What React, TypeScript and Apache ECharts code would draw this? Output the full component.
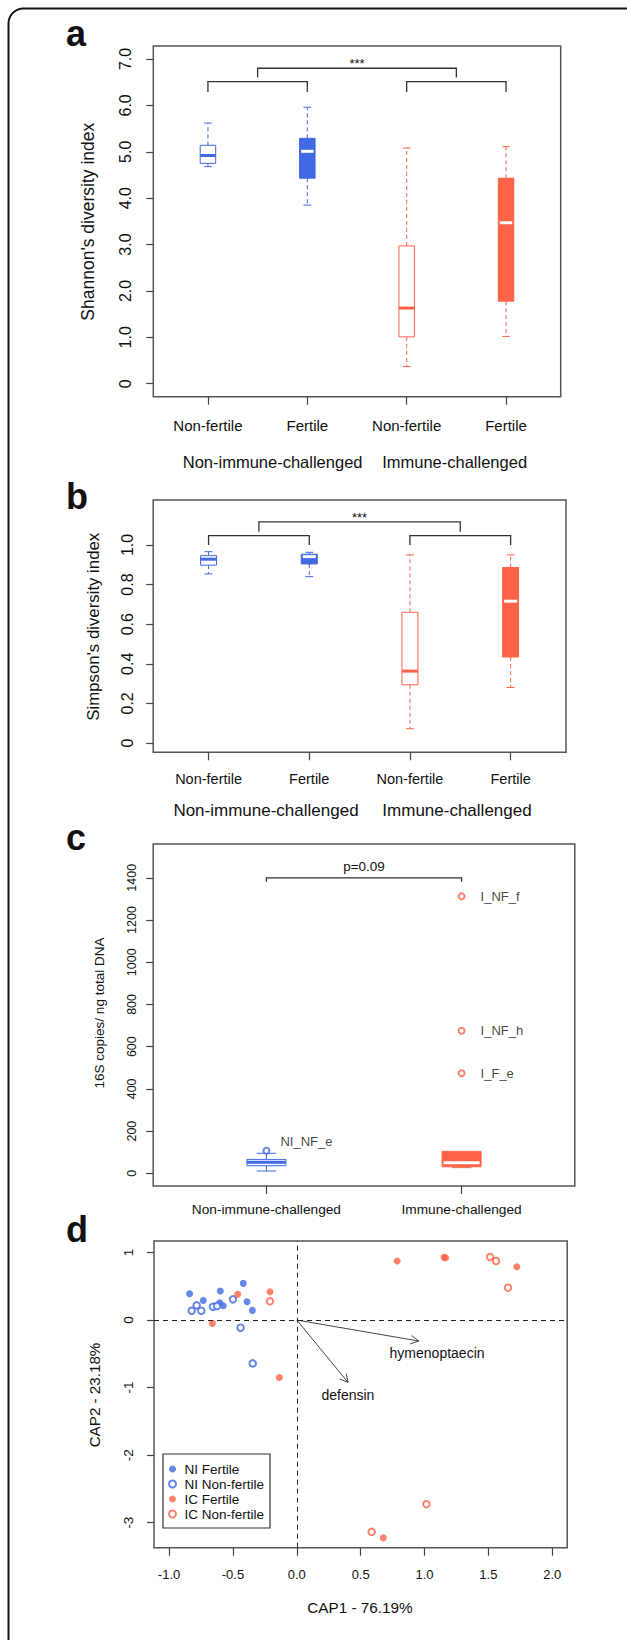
import React, { useEffect, useRef } from "react";
import * as echarts from "echarts";

const BLUE = "#4169E1";
const RED = "#FF6347";
const FONT = "'Liberation Sans', Arial, Helvetica, sans-serif";
const INK = "#111";

// ---------- panel a / b : boxplots ----------
const boxCategories = ["Non-fertile", "Fertile", "Non-fertile", "Fertile"];
const groupLabels = ["Non-immune-challenged", "Immune-challenged"];
const boxFilled = [false, true, false, true];
const boxColors = [BLUE, BLUE, RED, RED];

// each row: [min, q1, median, q3, max]
const shannonStats = [
  [4.68, 4.75, 4.92, 5.14, 5.62],
  [3.85, 4.43, 5.01, 5.29, 5.96],
  [0.37, 1.01, 1.63, 2.97, 5.08],
  [1.02, 1.78, 3.47, 4.43, 5.11],
];
const shannonTicks = [0, 1, 2, 3, 4, 5, 6, 7];
// [x1, x2, yTop, yDrop]
const shannonBrackets = [
  [1, 2, 6.51, 6.29],
  [3, 4, 6.51, 6.29],
  [1.5, 3.5, 6.8, 6.6],
];
const shannonBracketLabels = ["", "", "***"];

const simpsonStats = [
  [0.854, 0.898, 0.928, 0.946, 0.966],
  [0.84, 0.904, 0.941, 0.953, 0.963],
  [0.072, 0.294, 0.363, 0.66, 0.95],
  [0.28, 0.434, 0.716, 0.886, 0.95],
];
const simpsonTicks = [0, 0.2, 0.4, 0.6, 0.8, 1.0];
const simpsonBrackets = [
  [1, 2, 1.047, 1.0],
  [3, 4, 1.047, 1.0],
  [1.5, 3.5, 1.117, 1.067],
];
const simpsonBracketLabels = ["", "", "***"];

// ---------- panel c ----------
const copiesCategories = ["Non-immune-challenged", "Immune-challenged"];
const copiesStats = [
  [11, 36, 52, 66, 95],
  [27, 31, 50, 104, 104],
];
const copiesFilled = [false, true];
const copiesColors = [BLUE, RED];
const copiesTicks = [0, 200, 400, 600, 800, 1000, 1200, 1400];
const niOutliers = [[1, 107]];
const niOutlierLabels = ["NI_NF_e"];
const icOutliers = [
  [2, 1312],
  [2, 675],
  [2, 474],
];
const icOutlierLabels = ["I_NF_f", "I_NF_h", "I_F_e"];
const copiesBrackets = [[1, 2, 1400, 1381]];
const copiesBracketLabels = ["p=0.09"];

// ---------- panel d ----------
const niFertile = [
  [-0.839, 0.39], [-0.732, 0.29], [-0.599, 0.43], [-0.604, 0.257],
  [-0.576, 0.212], [-0.419, 0.543], [-0.39, 0.27], [-0.348, 0.143],
];
const niNonFertile = [
  [-0.823, 0.138], [-0.784, 0.217], [-0.748, 0.138], [-0.656, 0.197],
  [-0.625, 0.207], [-0.5, 0.306], [-0.44, -0.114], [-0.345, -0.642],
];
const icFertile = [
  [-0.661, -0.049], [-0.463, 0.38], [-0.21, 0.42], [-0.137, -0.85],
  [0.786, 0.874], [1.153, 0.928], [1.165, 0.923], [1.723, 0.79], [0.677, -3.225],
];
const icNonFertile = [
  [-0.21, 0.277], [1.513, 0.933], [1.56, 0.874], [1.654, 0.479],
  [0.586, -3.136], [1.015, -2.726],
];
// [x0, y0, x1, y1, labelX, labelY]
const capArrows = [
  [0, 0, 0.955, -0.311, 1.098, -0.489],
  [0, 0, 0.401, -0.923, 0.4, -1.11],
];
const capArrowNames = ["hymenoptaecin", "defensin"];
const capXTicks = [-1, -0.5, 0, 0.5, 1, 1.5, 2];
const capYTicks = [-3, -2, -1, 0, 1];

function boxSeries(
  idx: number,
  stats: number[][],
  filled: boolean[],
  colors: string[],
  boxW: number,
  dashed: boolean
) {
  return {
    type: "custom",
    xAxisIndex: idx,
    yAxisIndex: idx,
    data: stats.map((s, i) => [i + 1, ...s]),
    renderItem: (params: any, api: any) => {
      const i = params.dataIndex;
      const pos = api.value(0);
      const c = colors[i];
      const f = filled[i];
      const pMin = api.coord([pos, api.value(1)]);
      const pQ1 = api.coord([pos, api.value(2)]);
      const pMed = api.coord([pos, api.value(3)]);
      const pQ3 = api.coord([pos, api.value(4)]);
      const pMax = api.coord([pos, api.value(5)]);
      const cx = pMin[0];
      const hw = boxW / 2;
      const cap = boxW / 4;
      const wStyle: any = { stroke: c, lineWidth: 1 };
      if (dashed) wStyle.lineDash = [4, 3];
      const ch: any[] = [];
      if (pMax[1] < pQ3[1] - 0.5) {
        ch.push({ type: "line", shape: { x1: cx, y1: pQ3[1], x2: cx, y2: pMax[1] }, style: wStyle });
        ch.push({ type: "line", shape: { x1: cx - cap, y1: pMax[1], x2: cx + cap, y2: pMax[1] }, style: { stroke: c, lineWidth: 1 } });
      }
      if (pMin[1] > pQ1[1] + 0.5) {
        ch.push({ type: "line", shape: { x1: cx, y1: pQ1[1], x2: cx, y2: pMin[1] }, style: wStyle });
        ch.push({ type: "line", shape: { x1: cx - cap, y1: pMin[1], x2: cx + cap, y2: pMin[1] }, style: { stroke: c, lineWidth: 1 } });
      }
      ch.push({
        type: "rect",
        shape: { x: cx - hw, y: pQ3[1], width: boxW, height: pQ1[1] - pQ3[1] },
        style: { fill: f ? c : "#fff", stroke: c, lineWidth: 1 },
      });
      ch.push({
        type: "line",
        shape: { x1: cx - hw + (f ? 1.5 : 0), y1: pMed[1], x2: cx + hw - (f ? 1.5 : 0), y2: pMed[1] },
        style: { stroke: f ? "#fff" : c, lineWidth: 3 },
      });
      return { type: "group", children: ch };
    },
  };
}

function bracketSeries(idx: number, data: number[][], labels: string[], fontSize: number, lift: number) {
  return {
    type: "custom",
    xAxisIndex: idx,
    yAxisIndex: idx,
    data,
    renderItem: (params: any, api: any) => {
      const x1 = api.value(0);
      const x2 = api.value(1);
      const yt = api.value(2);
      const yd = api.value(3);
      const a = api.coord([x1, yd]);
      const b = api.coord([x1, yt]);
      const c = api.coord([x2, yt]);
      const d = api.coord([x2, yd]);
      const ch: any[] = [
        { type: "polyline", shape: { points: [a, b, c, d] }, style: { stroke: "#333", lineWidth: 1.3, fill: "none" } },
      ];
      const lab = labels[params.dataIndex];
      if (lab) {
        ch.push({
          type: "text",
          x: (b[0] + c[0]) / 2,
          y: b[1] - lift,
          style: { text: lab, fontSize, fontFamily: FONT, fill: INK, align: "center", verticalAlign: "bottom" },
        });
      }
      return { type: "group", children: ch };
    },
  };
}

function valueX(idx: number, min: number, max: number, ticks: number[], fmt: (v: number) => string, fontSize: number, margin: number) {
  return {
    type: "value",
    gridIndex: idx,
    min,
    max,
    axisLine: { show: false, onZero: false },
    splitLine: { show: false },
    axisTick: { show: true, customValues: ticks, length: 8, lineStyle: { color: "#444", width: 1.2 } },
    axisLabel: { show: true, customValues: ticks, formatter: fmt, fontSize, fontFamily: FONT, color: INK, margin },
  };
}

function valueY(idx: number, min: number, max: number, ticks: number[], fmt: (v: number) => string, fontSize: number, margin: number) {
  return {
    type: "value",
    gridIndex: idx,
    min,
    max,
    axisLine: { show: false, onZero: false },
    splitLine: { show: false },
    axisTick: { show: true, customValues: ticks, length: 7, lineStyle: { color: "#444", width: 1.2 } },
    axisLabel: { show: true, customValues: ticks, formatter: fmt, fontSize, fontFamily: FONT, color: INK, margin, rotate: 90 },
  };
}

function txt(text: string, x: number, y: number, fontSize: number, extra: any = {}) {
  return {
    type: "text",
    x,
    y,
    style: { text, fontSize, fontFamily: FONT, fill: INK, align: "center", verticalAlign: "middle", ...extra },
  };
}

function vtxt(text: string, x: number, y: number, fontSize: number) {
  return {
    type: "text",
    x,
    y,
    rotation: Math.PI / 2,
    style: { text, fontSize, fontFamily: FONT, fill: INK, align: "center", verticalAlign: "middle" },
  };
}

const gridBase = { show: true, borderColor: "#555", borderWidth: 1.5, backgroundColor: "transparent", outerBoundsMode: "none", containLabel: false };

export default function App() {
  const ref = useRef<HTMLDivElement>(null);
  useEffect(() => {
    document.body.style.margin = "0";
    if (!ref.current) return;
    const chart = echarts.init(ref.current, null, { renderer: "svg" });
    const dec1 = (v: number) => (v === 0 ? "0" : v.toFixed(1));
    const option: any = {
      animation: false,
      backgroundColor: "#fff",
      textStyle: { fontFamily: FONT },
      grid: [
        { ...gridBase, left: 153.3, top: 46, width: 407.4, height: 350.7 },
        { ...gridBase, left: 153.2, top: 500, width: 412.8, height: 252.3 },
        { ...gridBase, left: 153.2, top: 844, width: 421.6, height: 342 },
        { ...gridBase, left: 154, top: 1241, width: 413.2, height: 306.7 },
      ],
      xAxis: [
        valueX(0, 0.45, 4.55, [1, 2, 3, 4], (v) => boxCategories[Math.round(v) - 1], 15, 21),
        valueX(1, 0.45, 4.55, [1, 2, 3, 4], (v) => boxCategories[Math.round(v) - 1], 14.5, 19),
        valueX(2, 0.42, 2.58, [1, 2], (v) => copiesCategories[Math.round(v) - 1], 13.7, 16.5),
        valueX(3, -1.118, 2.117, capXTicks, (v) => v.toFixed(1), 13, 20),
      ],
      yAxis: [
        valueY(0, -0.28, 7.28, shannonTicks, dec1, 16, 20),
        valueY(1, -0.047, 1.227, simpsonTicks, dec1, 16, 18),
        valueY(2, -60, 1560, copiesTicks, (v) => String(v), 12.5, 14.5),
        valueY(3, -3.37, 1.17, capYTicks, (v) => String(v), 13.5, 19),
      ],
      legend: {
        show: true,
        orient: "vertical",
        left: 163,
        top: 1454,
        data: ["NI Fertile", "NI Non-fertile", "IC Fertile", "IC Non-fertile"],
        selectedMode: false,
        borderColor: "#333",
        borderWidth: 1.2,
        borderRadius: 0,
        padding: [8, 6, 7, 5],
        itemGap: 1,
        itemWidth: 14,
        itemHeight: 7,
        backgroundColor: "#fff",
        textStyle: { fontSize: 13.5, fontFamily: FONT, color: INK, lineHeight: 13.3, padding: [0, 0, 0, 0] },
      },
      series: [
        boxSeries(0, shannonStats, boxFilled, boxColors, 15.5, true),
        bracketSeries(0, shannonBrackets, shannonBracketLabels, 13, -2),
        boxSeries(1, simpsonStats, boxFilled, boxColors, 16, true),
        bracketSeries(1, simpsonBrackets, simpsonBracketLabels, 13, -2),
        boxSeries(2, copiesStats, copiesFilled, copiesColors, 39, false),
        bracketSeries(2, copiesBrackets, copiesBracketLabels, 13.5, 4),
        {
          type: "scatter",
          xAxisIndex: 2,
          yAxisIndex: 2,
          symbol: "emptyCircle",
          symbolSize: 6,
          itemStyle: { color: BLUE, borderColor: BLUE, borderWidth: 1 },
          data: niOutliers.map((p, i) => ({ value: p, name: niOutlierLabels[i] })),
          label: { show: true, formatter: "{b}", position: "right", distance: 10, offset: [0, -9], fontSize: 13, fontFamily: FONT, color: INK },
        },
        {
          type: "scatter",
          xAxisIndex: 2,
          yAxisIndex: 2,
          symbol: "emptyCircle",
          symbolSize: 6,
          itemStyle: { color: RED, borderColor: RED, borderWidth: 1, opacity: 0.8 },
          data: icOutliers.map((p, i) => ({ value: p, name: icOutlierLabels[i] })),
          label: { show: true, formatter: "{b}", position: "right", distance: 15, fontSize: 13, fontFamily: FONT, color: INK },
        },
        {
          type: "custom",
          xAxisIndex: 3,
          yAxisIndex: 3,
          data: capArrows,
          z: 1,
          renderItem: (params: any, api: any) => {
            const p0 = api.coord([api.value(0), api.value(1)]);
            const p1 = api.coord([api.value(2), api.value(3)]);
            const pl = api.coord([api.value(4), api.value(5)]);
            const ang = Math.atan2(p1[1] - p0[1], p1[0] - p0[0]);
            const L = 9;
            const th = (28 * Math.PI) / 180;
            const h1 = [p1[0] - L * Math.cos(ang - th), p1[1] - L * Math.sin(ang - th)];
            const h2 = [p1[0] - L * Math.cos(ang + th), p1[1] - L * Math.sin(ang + th)];
            return {
              type: "group",
              children: [
                { type: "line", shape: { x1: p0[0], y1: p0[1], x2: p1[0], y2: p1[1] }, style: { stroke: "#444", lineWidth: 1 } },
                { type: "polyline", shape: { points: [h1, p1, h2] }, style: { stroke: "#444", lineWidth: 1, fill: "none" } },
                {
                  type: "text",
                  x: pl[0],
                  y: pl[1],
                  style: { text: capArrowNames[params.dataIndex], fontSize: 14, fontFamily: FONT, fill: INK, align: "center", verticalAlign: "middle" },
                },
              ],
            };
          },
        },
        {
          name: "NI Fertile",
          type: "scatter",
          xAxisIndex: 3,
          yAxisIndex: 3,
          symbol: "circle",
          symbolSize: 7,
          z: 3,
          itemStyle: { color: BLUE },
          data: niFertile,
          markLine: {
            silent: true,
            symbol: "none",
            label: { show: false },
            lineStyle: { color: "#222", width: 1, type: [5, 4] },
            data: [{ xAxis: 0 }, { yAxis: 0 }],
          },
        },
        {
          name: "NI Non-fertile",
          type: "scatter",
          xAxisIndex: 3,
          yAxisIndex: 3,
          symbol: "emptyCircle",
          symbolSize: 6.5,
          z: 3,
          itemStyle: { color: BLUE, borderColor: BLUE, borderWidth: 1.5 },
          data: niNonFertile,
        },
        {
          name: "IC Fertile",
          type: "scatter",
          xAxisIndex: 3,
          yAxisIndex: 3,
          symbol: "circle",
          symbolSize: 7,
          z: 3,
          itemStyle: { color: RED },
          data: icFertile,
        },
        {
          name: "IC Non-fertile",
          type: "scatter",
          xAxisIndex: 3,
          yAxisIndex: 3,
          symbol: "emptyCircle",
          symbolSize: 6.5,
          z: 3,
          itemStyle: { color: RED, borderColor: RED, borderWidth: 1.5 },
          data: icNonFertile,
        },
      ],
      graphic: [
        {
          type: "rect",
          shape: { x: 8.5, y: 8.5, width: 650, height: 1660, r: 15 },
          style: { fill: "none", stroke: "#111", lineWidth: 2 },
          z: -10,
          silent: true,
        },
        txt("a", 76, 33, 36, { fontWeight: "bold" }),
        txt("b", 77, 496, 36, { fontWeight: "bold" }),
        txt("c", 76, 837, 36, { fontWeight: "bold" }),
        txt("d", 77, 1229, 36, { fontWeight: "bold" }),
        vtxt("Shannon's diversity index", 88, 221.7, 17.5),
        vtxt("Simpson's diversity index", 93, 626.7, 16.8),
        vtxt("16S copies/ ng total DNA", 99, 1013, 13.5),
        vtxt("CAP2 - 23.18%", 94, 1395, 15.2),
        txt("CAP1 - 76.19%", 360, 1607.3, 15.3),
        txt(groupLabels[0], 272.6, 461.7, 16.5),
        txt(groupLabels[1], 454.6, 461.7, 16.5),
        txt(groupLabels[0], 266, 810.7, 17),
        txt(groupLabels[1], 457, 810.7, 17),
      ],
    };
    chart.setOption(option);
    return () => chart.dispose();
  }, []);
  return <div ref={ref} style={{ width: 627, height: 1640 }} />;
}
